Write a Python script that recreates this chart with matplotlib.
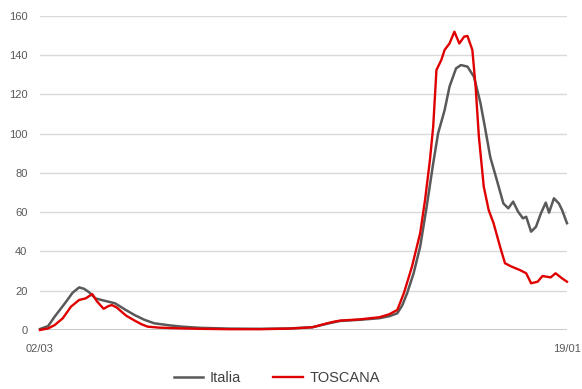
import matplotlib
matplotlib.use("Agg")
import matplotlib.pyplot as plt
import pandas as pd

start_date = "2020-03-02"
end_date = "2021-01-19"

# giorni dal 02/03/2020 e valori
italia_days = [0, 5, 9, 16, 20, 24, 27, 30, 34, 40, 46, 52, 58, 64, 70, 80, 87, 98, 116, 135,
               153, 167, 176, 184, 196, 208, 214, 219, 222, 225, 229, 233, 237, 241, 244,
               248, 251, 255, 258, 262, 266, 270, 273, 276, 280, 284, 287, 290, 293,
               296, 298, 301, 304, 307, 310, 312, 315, 318, 320, 323]
italia_vals = [0.5, 2, 6.8, 14.4, 19, 21.7, 21, 19.3, 16.1, 14.8, 13.6, 10.5, 7.6, 5.2, 3.4, 2.3,
               1.7, 1.1, 0.7, 0.6, 0.8, 1.4, 3.2, 4.6, 5.2, 6.0, 7.0, 8.5, 12.5, 18.7, 28.9,
               42.4, 62.8, 84.9, 100.2, 112, 124, 133.3, 135, 134.2, 129, 115.5, 102,
               88, 76.4, 64.5, 62, 65.4, 60.3, 56.9, 57.7, 50.1, 52.6, 59.4, 64.9,
               59.8, 67.1, 64.5, 61.1, 54.4]

toscana_days = [0, 5, 9, 14, 19, 24, 28, 32, 35, 39, 42, 44, 47, 50, 53, 58, 62, 66,
                73, 83, 98, 116, 135, 153, 167, 176, 180, 184, 196, 208, 214, 219, 223,
                228, 233, 236, 239, 241, 243, 246, 248, 251, 254, 257, 260, 262, 265,
                267, 269, 272, 275, 278, 282, 285, 289, 294, 298, 301, 305, 308, 313,
                316, 320, 323]
toscana_vals = [0, 0.8, 2.5, 6, 11.9, 15.3, 16.1, 18.3, 14.5, 10.8, 12.2, 12.7, 11.5,
                9.3, 7.2, 4.8, 3, 1.7, 1.2, 0.9, 0.6, 0.4, 0.4, 0.7, 1.4, 3.4, 4.2, 4.8,
                5.4, 6.5, 8, 10.2, 18.7, 32.3, 49.3, 66.2, 86.6, 103.6, 132.5, 137.6,
                142.7, 146, 152, 146, 149.5, 149.8, 142.7, 124, 98.5, 73, 61.1, 54.4,
                42.4, 34, 32.3, 30.6, 28.9, 23.8, 24.6, 27.5, 26.8, 28.9, 26.3, 24.6]

y_ticks = [0, 20, 40, 60, 80, 100, 120, 140, 160]
x_tick_labels = ["02/03", "19/01"]

plt.rcParams["font.family"] = ["Liberation Sans", "DejaVu Sans"]

t0 = pd.Timestamp(start_date)
italia_x = t0 + pd.to_timedelta(italia_days, unit="D")
toscana_x = t0 + pd.to_timedelta(toscana_days, unit="D")

fig = plt.figure(figsize=(5.82, 3.89), dpi=100)
ax = fig.add_axes([0.0687, 0.1517, 0.9055, 0.8072])

ax.plot(italia_x, italia_vals, color="#595959", lw=1.8, label="Italia", clip_on=False,
        zorder=3, solid_joinstyle="round")
ax.plot(toscana_x, toscana_vals, color="#e00000", lw=1.7, label="TOSCANA", clip_on=False,
        zorder=4, solid_joinstyle="round")

ax.set_ylim(0, 160)
ax.set_xlim(t0, pd.Timestamp(end_date))
ax.set_yticks(y_ticks)
ax.set_xticks([t0, pd.Timestamp(end_date)])
ax.set_xticklabels(x_tick_labels)

for v in y_ticks[1:]:
    ax.axhline(v, color="#d9d9d9", lw=1, zorder=1)
ax.axhline(0, color="#bfbfbf", lw=1.2, zorder=2)

for s in ax.spines.values():
    s.set_visible(False)
ax.tick_params(length=0, labelsize=8, colors="#595959")
ax.tick_params(axis="y", pad=9)
ax.tick_params(axis="x", pad=10)

fig.legend(loc="center", bbox_to_anchor=(277 / 582, 1 - 378 / 389), ncol=2,
           frameon=False, fontsize=10.5, handlelength=2.0, columnspacing=2.2,
           handletextpad=0.5, labelcolor="#404040", borderaxespad=0, borderpad=0.2)

fig.savefig("out.png", dpi=100)
